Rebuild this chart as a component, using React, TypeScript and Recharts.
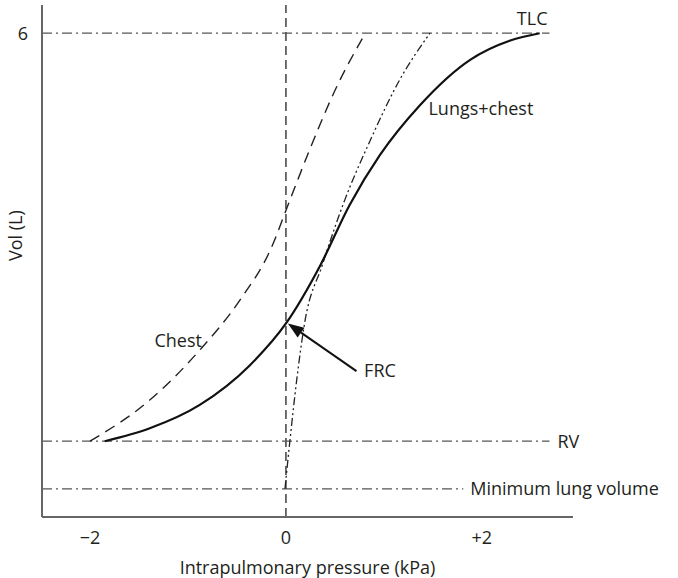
import React from 'react';
import { LineChart, Line, XAxis, YAxis, ReferenceLine, ReferenceDot, Label } from 'recharts';

// Chest (dashed)
const chestP = [-2.0, -1.39, -0.88, -0.47, -0.16, 0.04, 0.24, 0.5, 0.81];
const chestV = [0.94, 1.45, 2.07, 2.69, 3.31, 3.93, 4.55, 5.29, 6.0];
// Lungs + chest (solid)
const totalP = [-1.85, -1.39, -0.88, -0.37, 0, 0.35, 0.65, 0.96, 1.37, 1.88, 2.29, 2.59];
const totalV = [0.94, 1.1, 1.39, 1.88, 2.4, 3.12, 3.87, 4.49, 5.11, 5.67, 5.91, 6.0];
// Lungs (dash-dot-dot)
const lungP = [-0.01, 0.04, 0.11, 0.19, 0.37, 0.6, 0.86, 1.16, 1.47];
const lungV = [0.35, 0.94, 1.7, 2.4, 3.12, 3.93, 4.67, 5.42, 6.0];

const xTicks = [-2, 0, 2];
const xTickLabels = ['\u22122', '0', '+2'];
const yTicks = [6];

const TLC = 6;
const RV = 0.94;
const MIN_VOL = 0.35;
const FRC_V = 2.4;

const X_MIN = -2.49;
const X_MAX = 2.93;
const Y_MAX = 6.35;

const toData = (p: number[], v: number[]) => p.map((x, i) => ({ p: x, v: v[i] }));

const chestData = toData(chestP, chestV);
const totalData = toData(totalP, totalV);
const lungData = toData(lungP, lungV);

const FONT = '"Open Sans", "Noto Sans", sans-serif';
const FS = 18;
const TXT = '#231f20';
const REF = '#555';
const DASHDOT = '10 4 2 4';

const ArrowShape = (props: any) => {
  const { x1, y1, x2, y2 } = props;
  const dx = x2 - x1;
  const dy = y2 - y1;
  const len = Math.sqrt(dx * dx + dy * dy) || 1;
  const ux = dx / len;
  const uy = dy / len;
  const hl = 16;
  const hw = 6;
  const bx = x2 - ux * hl;
  const by = y2 - uy * hl;
  const pts = `${x2},${y2} ${bx - uy * hw},${by + ux * hw} ${bx + uy * hw},${by - ux * hw}`;
  return (
    <g>
      <line x1={x1} y1={y1} x2={bx} y2={by} stroke="#111" strokeWidth={2} />
      <polygon points={pts} fill="#111" />
    </g>
  );
};

export default function App() {
  return (
    <div style={{ position: 'absolute', left: 0, top: 0, width: 678, height: 578, background: '#fff' }}>
      <LineChart width={678} height={578} margin={{ top: 5, right: 105, bottom: 0, left: 0 }}>
        <XAxis
          type="number"
          dataKey="p"
          domain={[X_MIN, X_MAX]}
          ticks={xTicks}
          tickFormatter={(v: number) => xTickLabels[xTicks.indexOf(v)]}
          tickLine={false}
          axisLine={{ stroke: '#666', strokeWidth: 2 }}
          tick={{ fill: TXT, fontSize: FS, fontFamily: FONT }}
          tickMargin={8}
          height={61}
          allowDataOverflow
        >
          <Label value="Intrapulmonary pressure (kPa)" position="insideBottom" offset={4} fill={TXT} fontSize={FS} fontFamily={FONT} />
        </XAxis>
        <YAxis
          type="number"
          dataKey="v"
          domain={[0, Y_MAX]}
          ticks={yTicks}
          tickLine={false}
          axisLine={{ stroke: '#666', strokeWidth: 2 }}
          tick={{ fill: TXT, fontSize: FS, fontFamily: FONT }}
          tickMargin={8}
          width={42}
          allowDataOverflow
        >
          <Label value="Vol (L)" angle={-90} position="insideLeft" offset={16} fill={TXT} fontSize={FS} fontFamily={FONT} />
        </YAxis>

        <ReferenceLine x={0} stroke="#222" strokeWidth={1.3} strokeDasharray="9 5" />
        <ReferenceLine
          segment={[{ x: X_MIN, y: TLC }, { x: 2.69, y: TLC }]}
          stroke={REF}
          strokeWidth={1.3}
          strokeDasharray={DASHDOT}
        >
          <Label value="TLC" position="insideBottomRight" offset={8} dx={6} fill={TXT} fontSize={FS} fontFamily={FONT} />
        </ReferenceLine>
        <ReferenceLine
          segment={[{ x: X_MIN, y: RV }, { x: 2.69, y: RV }]}
          stroke={REF}
          strokeWidth={1.3}
          strokeDasharray={DASHDOT}
        >
          <Label value="RV" position="right" offset={8} fill={TXT} fontSize={FS} fontFamily={FONT} />
        </ReferenceLine>
        <ReferenceLine
          segment={[{ x: X_MIN, y: MIN_VOL }, { x: 1.81, y: MIN_VOL }]}
          stroke={REF}
          strokeWidth={1.3}
          strokeDasharray={DASHDOT}
        >
          <Label value="Minimum lung volume" position="right" offset={7} fill={TXT} fontSize={FS} fontFamily={FONT} />
        </ReferenceLine>

        <Line data={chestData} dataKey="v" type="monotone" stroke="#222" strokeWidth={1.4} strokeDasharray="11 7" dot={false} isAnimationActive={false} />
        <Line data={lungData} dataKey="v" type="monotone" stroke="#222" strokeWidth={1.3} strokeDasharray="8 3 2 3 2 3" dot={false} isAnimationActive={false} />
        <Line data={totalData} dataKey="v" type="monotone" stroke="#111" strokeWidth={2.2} dot={false} isAnimationActive={false} />

        <ReferenceLine
          segment={[{ x: 0.72, y: 1.81 }, { x: 0.02, y: FRC_V }]}
          shape={ArrowShape}
        />

        <ReferenceDot x={-1.1} y={2.19} r={0} fill="none" stroke="none">
          <Label value="Chest" position="center" fill={TXT} fontSize={FS} fontFamily={FONT} />
        </ReferenceDot>
        <ReferenceDot x={0.96} y={1.82} r={0} fill="none" stroke="none">
          <Label value="FRC" position="center" fill={TXT} fontSize={FS} fontFamily={FONT} />
        </ReferenceDot>
        <ReferenceDot x={1.99} y={5.07} r={0} fill="none" stroke="none">
          <Label value="Lungs+chest" position="center" fill={TXT} fontSize={FS} fontFamily={FONT} />
        </ReferenceDot>
      </LineChart>
    </div>
  );
}
